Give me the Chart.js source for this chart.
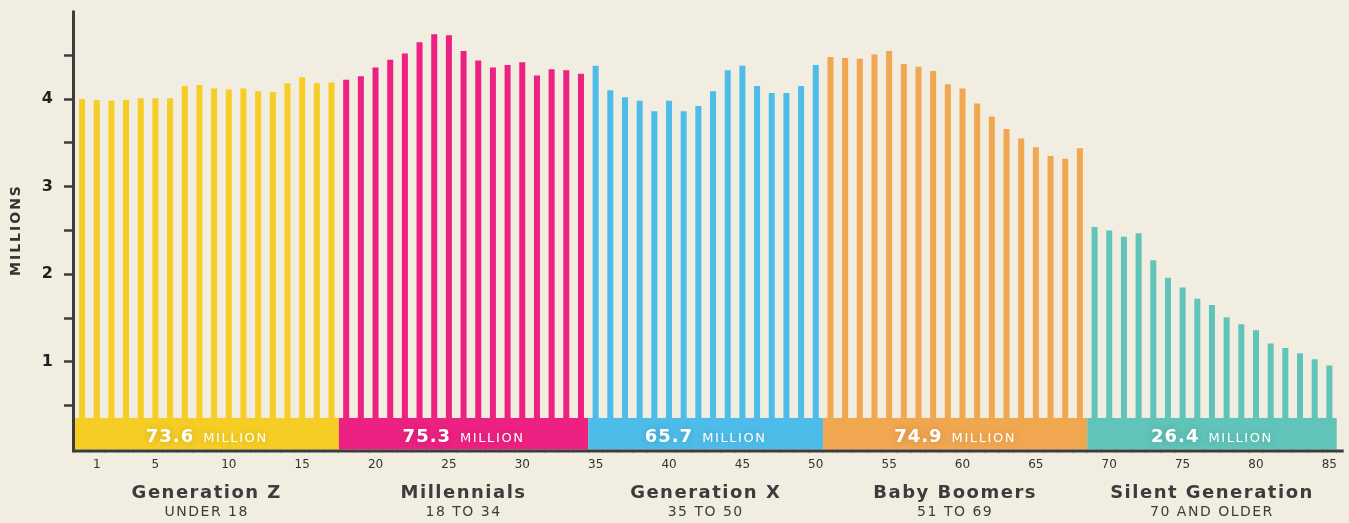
<!DOCTYPE html>
<html>
<head>
<meta charset="utf-8">
<script src="https://cdn.jsdelivr.net/npm/chart.js@4.4.0/dist/chart.umd.min.js"></script>
<style>
html, body { margin: 0; padding: 0; background: #f2ede1; }
#wrap { width: 1349px; height: 523px; }
</style>
</head>
<body>
<div id="wrap"><canvas id="genChart" width="1349" height="523"></canvas></div>
<script>
// US population by single year of age, in millions
var genZ = [4.00, 3.99, 3.98, 3.99, 4.01, 4.01, 4.01, 4.15, 4.16, 4.12, 4.11, 4.12, 4.09, 4.08, 4.18, 4.25, 4.18, 4.19];
var millennials = [4.22, 4.26, 4.36, 4.45, 4.52, 4.65, 4.74, 4.73, 4.55, 4.44, 4.36, 4.39, 4.42, 4.27, 4.34, 4.33, 4.29];
var genX = [4.38, 4.10, 4.02, 3.98, 3.86, 3.98, 3.86, 3.92, 4.09, 4.33, 4.38, 4.15, 4.07, 4.07, 4.15, 4.39];
var boomers = [4.48, 4.47, 4.46, 4.51, 4.55, 4.40, 4.37, 4.32, 4.17, 4.12, 3.95, 3.80, 3.66, 3.55, 3.45, 3.35, 3.32, 3.44];
var silent = [2.54, 2.50, 2.43, 2.47, 2.16, 1.96, 1.85, 1.72, 1.65, 1.51, 1.43, 1.36, 1.21, 1.16, 1.10, 1.03, 0.96];

var groupNames = ['Generation Z', 'Millennials', 'Generation X', 'Baby Boomers', 'Silent Generation'];
var groupRanges = ['UNDER 18', '18 TO 34', '35 TO 50', '51 TO 69', '70 AND OLDER'];
var groupTotals = ['73.6', '75.3', '65.7', '74.9', '26.4'];
var groupColors = ['#f5cd25', '#ec2181', '#4ebce9', '#f1a650', '#60c4b8'];

var xTickLabels = [1, 5, 10, 15, 20, 25, 30, 35, 40, 45, 50, 55, 60, 65, 70, 75, 80, 85];
var yTickLabels = [1, 2, 3, 4];

var BAND_TOP = 0.36;   // height of the coloured total strip, in axis units
var FONT = '"DejaVu Sans", sans-serif';
var INK = '#3c3c3c';

var groupValues = [genZ, millennials, genX, boomers, silent];
var values = [].concat(genZ, millennials, genX, boomers, silent);
var ages = values.map(function(v, i) { return String(i); });
var barColors = [];
var groupStart = [];
groupValues.forEach(function(g, gi) {
    groupStart.push(barColors.length);
    g.forEach(function() { barColors.push(groupColors[gi]); });
});

var genPlugin = {
    id: 'generations',
    afterDatasetsDraw: function(chart) {
        var c = chart.ctx, xs = chart.scales.x, ys = chart.scales.y;
        var half = (xs.getPixelForValue(1) - xs.getPixelForValue(0)) / 2;
        var yTop = ys.getPixelForValue(BAND_TOP), yBot = ys.getPixelForValue(0);
        c.save();
        groupValues.forEach(function(g, gi) {
            var x0 = xs.getPixelForValue(groupStart[gi]) - half;
            var x1 = xs.getPixelForValue(groupStart[gi] + g.length - 1) + half;
            c.fillStyle = groupColors[gi];
            c.fillRect(x0, yTop, x1 - x0, yBot - yTop);

            // "73.6 MILLION"
            var mid = (x0 + x1) / 2;
            c.font = 'bold 18px ' + FONT;
            c.letterSpacing = '1px';
            var wNum = c.measureText(groupTotals[gi]).width;
            c.font = '13px ' + FONT;
            c.letterSpacing = '1.6px';
            var wUnit = c.measureText('MILLION').width;
            var left = mid - (wNum + 9 + wUnit) / 2;
            var base = yBot - 8;
            c.shadowColor = 'rgba(0,0,0,0.18)';
            c.shadowBlur = 8;
            c.fillStyle = '#ffffff';
            c.textAlign = 'left';
            c.textBaseline = 'alphabetic';
            c.font = 'bold 18px ' + FONT;
            c.letterSpacing = '1px';
            c.fillText(groupTotals[gi], left, base);
            c.font = '13px ' + FONT;
            c.letterSpacing = '1.6px';
            c.fillText('MILLION', left + wNum + 9, base);
            c.shadowBlur = 0;
            c.shadowColor = 'rgba(0,0,0,0)';

            // group name + age range under the axis
            c.fillStyle = INK;
            c.textAlign = 'center';
            c.font = 'bold 18px ' + FONT;
            c.letterSpacing = '1.5px';
            c.fillText(groupNames[gi], mid, 498);
            c.font = '14px ' + FONT;
            c.letterSpacing = '1.5px';
            c.fillText(groupRanges[gi], mid, 516);
        });
        c.restore();
    },
    afterDraw: function(chart) {
        var c = chart.ctx, a = chart.chartArea;
        c.save();
        c.strokeStyle = INK;
        c.lineWidth = 3;
        c.beginPath();
        c.moveTo(a.left - 1.2, a.top - 1);
        c.lineTo(a.left - 1.2, a.bottom + 3);
        c.moveTo(a.left - 2.7, a.bottom + 1.5);
        c.lineTo(a.right + 7, a.bottom + 1.5);
        c.stroke();

        c.translate(16, 230);
        c.rotate(-Math.PI / 2);
        c.fillStyle = '#333333';
        c.font = 'bold 14px ' + FONT;
        c.letterSpacing = '2px';
        c.textAlign = 'center';
        c.textBaseline = 'middle';
        c.fillText('MILLIONS', 0, 0);
        c.restore();
    }
};

var ctx = document.getElementById('genChart').getContext('2d');
var genChart = new Chart(ctx, {
    type: 'bar',
    data: {
        labels: ages,
        datasets: [{
            data: values,
            backgroundColor: barColors,
            barPercentage: 0.41,
            categoryPercentage: 1
        }]
    },
    options: {
        responsive: false,
        animation: false,
        layout: { padding: { top: 11.5, right: 12.3, left: 0, bottom: 0 } },
        plugins: {
            legend: { display: false },
            tooltip: { enabled: false }
        },
        scales: {
            x: {
                afterFit: function(s) { s.height = 73.5; s.paddingLeft = 0; s.paddingRight = 0; },
                border: { display: false },
                grid: { drawOnChartArea: false, tickLength: 4, tickWidth: 1, tickColor: 'rgba(60,60,60,0.25)' },
                ticks: {
                    autoSkip: false,
                    maxRotation: 0,
                    padding: 4,
                    color: '#333333',
                    font: { family: FONT, size: 12 },
                    callback: function(v) { return xTickLabels.indexOf(v) >= 0 ? ages[v] : ''; }
                }
            },
            y: {
                min: 0,
                max: 5,
                afterFit: function(s) { s.width = 74.7; s.paddingTop = 0; s.paddingBottom = 0; },
                border: { display: false },
                grid: {
                    drawOnChartArea: false,
                    tickLength: 10.7,
                    tickWidth: 2.5,
                    tickColor: function(c) {
                        return (c.tick && c.tick.value > 0 && c.tick.value < 5) ? INK : 'rgba(0,0,0,0)';
                    }
                },
                ticks: {
                    stepSize: 0.5,
                    padding: 11,
                    color: '#231f20',
                    font: { family: FONT, size: 16, weight: 'bold' },
                    callback: function(v) { return yTickLabels.indexOf(v) >= 0 ? String(v) : ''; }
                }
            }
        }
    },
    plugins: [genPlugin]
});
</script>
</body>
</html>
